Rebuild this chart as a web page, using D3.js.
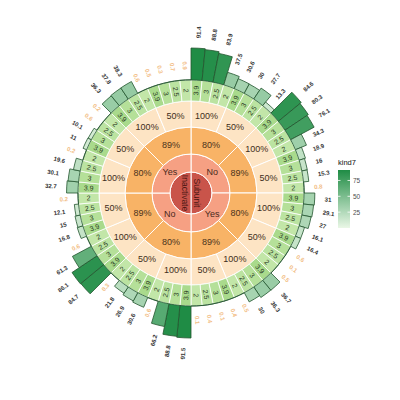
<!DOCTYPE html>
<html>
<head>
<meta charset="utf-8">
<script src="https://cdn.jsdelivr.net/npm/d3@7"></script>
<style>
  body { margin: 0; background: #fff; }
  svg { display: block; font-family: "Liberation Sans", Arial, sans-serif; }
</style>
</head>
<body>
<svg id="chart" width="400" height="400"></svg>
<script>
// All rings run clockwise from 12 o'clock.
var centerLabels = ["Subunit", "Inactivate"];
var ring2Labels  = ["No", "Yes", "No", "Yes"];
var ring3Labels  = ["80%", "89%", "80%", "89%", "80%", "89%", "80%", "89%"];
var ring4Labels  = ["100%", "50%", "100%", "50%", "100%", "50%", "100%", "50%",
                    "100%", "50%", "100%", "50%", "100%", "50%", "100%", "50%"];

var cellValues = [3.9, 3, 2.5, 2,  3.9, 3, 2.5, 2,  3.9, 3, 2.5, 2,  3.9, 3, 2.5, 2,
                  3.9, 3, 2.5, 2,  3.9, 3, 2.5, 2,  3.9, 3, 2.5, 2,  3.9, 3, 2.5, 2,
                  3.9, 3, 2.5, 2,  3.9, 3, 2.5, 2,  3.9, 3, 2.5, 2,  3.9, 3, 2.5, 2,
                  3.9, 3, 2.5, 2,  3.9, 3, 2.5, 2,  3.9, 3, 2.5, 2,  3.9, 3, 2.5, 2];

var barValues = [91.4, 88.8, 83.9, 37.5,   30.6, 30, 37.7, 13.3,
                 84.6, 80.3, 76.1, 34.3,   18.9, 16, 15.3, 0.8,
                 31, 29.1, 27, 16.1,       16.4, 0.6, 0.1, 0.5,
                 36.7, 36.3, 30, 0.5,      0.4, 0.1, 0.4, 0.1,
                 91.5, 88.8, 66.2, 0.6,    30.6, 26.9, 21.8, 0.3,
                 84.7, 86.1, 61.3, 0.6,    16.8, 15, 12.1, 0.2,
                 32.7, 30.1, 19.6, 0.2,    11, 10.1, 0.6, 0.2,
                 36.3, 37.8, 38.3, 0.6,    0.5, 0.3, 0.7, 0.9];

var legendTitle = "kind7";
var legendTicks = [25, 50, 75];


var svg = d3.select("#chart");
var cx = 191, cy = 193;
var g = svg.append("g").attr("transform", "translate(" + cx + "," + cy + ")");

var arc = d3.arc();
var TAU = 2 * Math.PI;

// colour scales
var barColor = d3.scaleLinear()
    .domain([0, 91.5])
    .range(["#eaf7e6", "#1f8c45"])
    .interpolate(d3.interpolateRgb);
var cellColor = d3.scaleLinear()
    .domain([2, 3.9])
    .range(["#c2e6a8", "#a9da8c"]);
var barRadius = d3.scaleLinear()
    .domain([0, 91.5])
    .range([113, 145]);

// draw one ring of equal segments
function drawRing(labels, r0, r1, fill, textFill, fontSize) {
    var n = labels.length;
    var ang = d3.scaleLinear().domain([0, n]).range([0, TAU]);
    var ring = g.append("g");
    labels.forEach(function(lab, i) {
        var d = {innerRadius: r0, outerRadius: r1, startAngle: ang(i), endAngle: ang(i + 1)};
        ring.append("path")
            .attr("d", arc(d))
            .attr("fill", fill)
            .attr("stroke", "#fff")
            .attr("stroke-width", 1);
        var c = arc.centroid(d);
        ring.append("text")
            .attr("x", c[0]).attr("y", c[1])
            .attr("text-anchor", "middle")
            .attr("dominant-baseline", "central")
            .attr("font-size", fontSize)
            .attr("fill", textFill)
            .text(lab);
    });
}

// center halves
(function() {
    var ang = d3.scaleLinear().domain([0, centerLabels.length]).range([0, TAU]);
    centerLabels.forEach(function(lab, i) {
        g.append("path")
            .attr("d", arc({innerRadius: 0, outerRadius: 21, startAngle: ang(i), endAngle: ang(i + 1)}))
            .attr("fill", "#c9544a")
            .attr("stroke", "#fff")
            .attr("stroke-width", 1);
        var x = i === 0 ? 6 : -6;
        g.append("text")
            .attr("transform", "translate(" + x + ",0) rotate(90)")
            .attr("text-anchor", "middle")
            .attr("dominant-baseline", "central")
            .attr("font-size", 8.5)
            .attr("fill", "#4a1712")
            .text(lab);
    });
})();

drawRing(ring2Labels, 21, 39, "#f6a083", "#4a2a1c", 9);
drawRing(ring3Labels, 39, 66, "#f8b366", "#4a321c", 9);
drawRing(ring4Labels, 66, 92, "#fde4c4", "#3d2e20", 9);

// radial text helper: angle a in radians, clockwise from top
function radialTransform(a, r) {
    var deg = a * 180 / Math.PI;
    var flip = deg >= 180;
    return "rotate(" + (deg - 90) + ") translate(" + r + ",0)" + (flip ? " rotate(180)" : "");
}

// number cells
var cellAng = d3.scaleLinear().domain([0, cellValues.length]).range([0, TAU]);
var cells = g.append("g");
cellValues.forEach(function(v, i) {
    cells.append("path")
        .attr("d", arc({innerRadius: 92, outerRadius: 113, startAngle: cellAng(i), endAngle: cellAng(i + 1)}))
        .attr("fill", cellColor(v))
        .attr("stroke", "#fff")
        .attr("stroke-width", 0.8);
    var mid = cellAng(i + 0.5);
    cells.append("text")
        .attr("transform", radialTransform(mid, 102.5))
        .attr("text-anchor", "middle")
        .attr("dominant-baseline", "central")
        .attr("font-size", 7)
        .attr("fill", "#2b3a24")
        .text(v);
});

// outer bars
var barAng = d3.scaleLinear().domain([0, barValues.length]).range([0, TAU]);
var bars = g.append("g");
barValues.forEach(function(v, i) {
    bars.append("path")
        .attr("d", arc({innerRadius: 113, outerRadius: barRadius(v), startAngle: barAng(i), endAngle: barAng(i + 1)}))
        .attr("fill", barColor(v))
        .attr("stroke", "#23552f")
        .attr("stroke-width", 0.8);
});
barValues.forEach(function(v, i) {
    var mid = barAng(i + 0.5);
    var deg = mid * 180 / Math.PI;
    bars.append("text")
        .attr("transform", radialTransform(mid, barRadius(v) + 10))
        .attr("text-anchor", deg >= 180 ? "end" : "start")
        .attr("dominant-baseline", "central")
        .attr("font-size", 6)
        .attr("font-weight", "bold")
        .attr("fill", v < 1 ? "#f2bd84" : "#333")
        .text(v);
});

// legend (colour bar)
var lx = 338, lw = 12;
var ly = d3.scaleLinear().domain([0, 91.5]).range([228, 170]);

var grad = svg.append("defs").append("linearGradient")
    .attr("id", "kindGrad")
    .attr("x1", 0).attr("y1", 1).attr("x2", 0).attr("y2", 0);
[0, 0.25, 0.5, 0.75, 1].forEach(function(t) {
    grad.append("stop")
        .attr("offset", t)
        .attr("stop-color", barColor(t * 91.5));
});

var leg = svg.append("g");
leg.append("text")
    .attr("x", lx).attr("y", 165)
    .attr("font-size", 7.5)
    .attr("fill", "#111")
    .text(legendTitle);
leg.append("rect")
    .attr("x", lx).attr("y", ly(91.5))
    .attr("width", lw).attr("height", ly(0) - ly(91.5))
    .attr("fill", "url(#kindGrad)");
legendTicks.forEach(function(t) {
    leg.append("line")
        .attr("x1", lx).attr("x2", lx + 2.5)
        .attr("y1", ly(t)).attr("y2", ly(t))
        .attr("stroke", "#fff").attr("stroke-width", 0.8);
    leg.append("line")
        .attr("x1", lx + lw - 2.5).attr("x2", lx + lw)
        .attr("y1", ly(t)).attr("y2", ly(t))
        .attr("stroke", "#fff").attr("stroke-width", 0.8);
    leg.append("text")
        .attr("x", lx + lw + 3).attr("y", ly(t))
        .attr("dominant-baseline", "central")
        .attr("font-size", 6.5)
        .attr("fill", "#4d4d4d")
        .text(t);
});
</script>
</body>
</html>
